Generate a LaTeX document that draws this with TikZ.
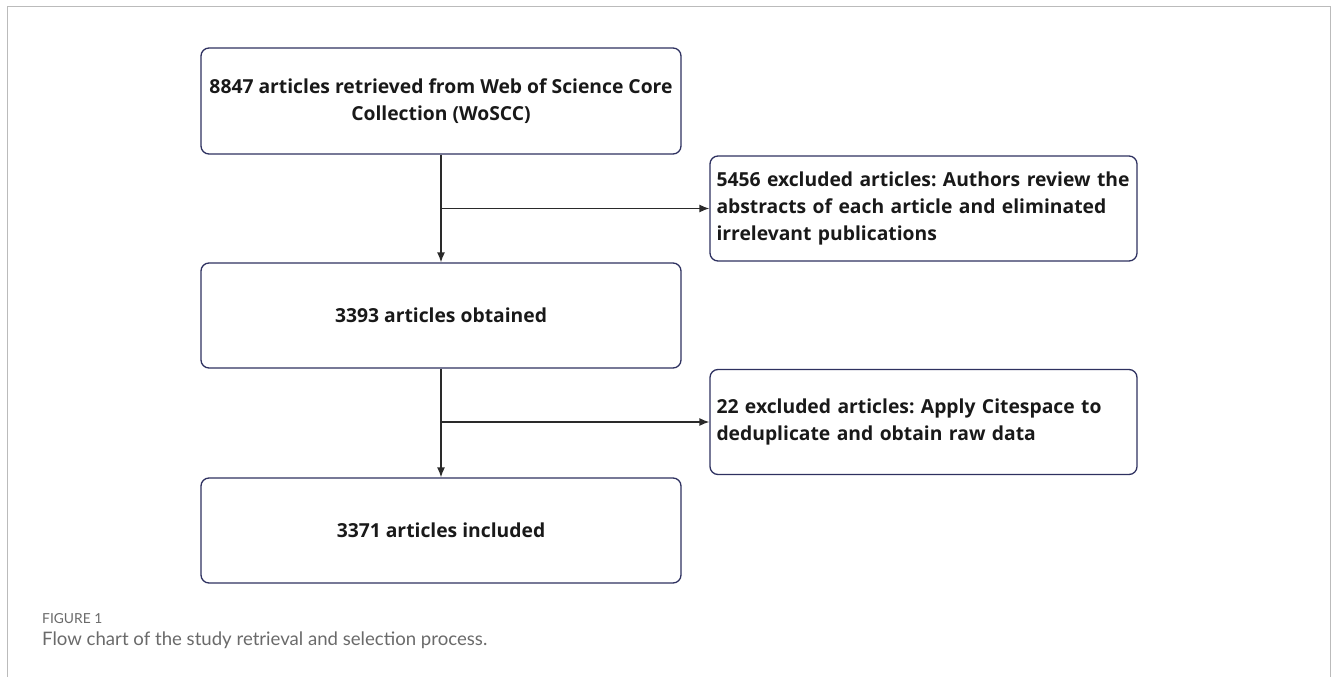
\documentclass[tikz,border=0pt]{standalone}
\usepackage{fontspec}
\setmainfont{Open Sans}
\newfontfamily\capfont{Lato}
\usetikzlibrary{arrows.meta}
\definecolor{boxline}{HTML}{2E3160}
\definecolor{arrowc}{HTML}{2A2A2A}
\definecolor{framec}{HTML}{BBBBBB}
\definecolor{capc}{HTML}{6A6A6A}
\frenchspacing
\begin{document}
\begin{tikzpicture}[x=1pt,y=-1pt,
  stepbox/.style={draw=boxline, line width=1.3pt, rounded corners=8pt, inner sep=0pt,
    font=\bfseries\fontsize{19.3}{27.3}\selectfont, align=center, text=black!90},
  sidebox/.style={stepbox, minimum width=427pt, minimum height=105pt, text width=414pt, align=left},
  mainbox/.style={stepbox, minimum width=480pt},
  arr/.style={draw=arrowc, line width=1.3pt, -{Latex[length=10pt,width=8pt]}}]
\useasboundingbox (0,0) rectangle (1333,677);
\draw[framec, line width=1pt] (7,677) -- (7,7) -- (1330,7) -- (1330,677);
\node[mainbox, minimum height=106pt] (b1) at (441,101) {8847 articles retrieved from Web of Science Core\\Collection (WoSCC)};
\node[sidebox] (b2) at (923.5,208.5) {5456 excluded articles: Authors review the\\abstracts of each article and eliminated\\irrelevant publications};
\node[mainbox, minimum height=105pt] (b3) at (441,315.5) {3393 articles obtained};
\node[sidebox] (b4) at (923.5,422) {22 excluded articles: Apply Citespace to\\deduplicate and obtain raw data};
\node[mainbox, minimum height=105pt] (b5) at (441,530.5) {3371 articles included};
\coordinate (j1) at (b1.south |- b2.west);
\coordinate (j2) at (b3.south |- b4.west);
\draw[arr] (b1.south) -- (b3.north);
\draw[arr] (j1) -- (b2.west);
\draw[arr] (b3.south) -- (b5.north);
\draw[arr] (j2) -- (b4.west);
\node[anchor=base west, inner sep=0pt, text=capc, font=\capfont\fontsize{13.8}{16}\selectfont] (f1) at (42,623) {FIGURE 1};
\node[anchor=base west, inner sep=0pt, text=capc, font=\capfont\fontsize{18.6}{22}\selectfont] (f2) at (42,645) {Flow chart of the study retrieval and selection process.};
\end{tikzpicture}
\end{document}
